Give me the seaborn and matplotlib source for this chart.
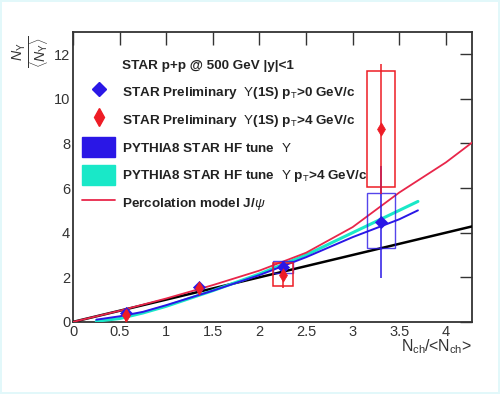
import numpy as np
import pandas as pd
import matplotlib
matplotlib.use("Agg")
import matplotlib.pyplot as plt
from matplotlib.lines import Line2D
from matplotlib.patches import Patch, Rectangle
import seaborn as sns

# ---- data ----
x_pts = [0.57, 1.35, 2.25, 3.30]
blue_y = [0.42, 1.58, 2.45, 4.48]
blue_err = [0.15, 0.15, 0.30, 2.50]
red_y = [0.30, 1.50, 2.10, 8.65]
red_err = [0.30, 0.20, 0.60, 2.90]
blue_sys_x = [2.25, 3.30]
blue_sys_lo = [2.20, 3.30]
blue_sys_hi = [2.75, 5.78]
red_sys_x = [2.25, 3.30]
red_sys_lo = [1.60, 6.05]
red_sys_hi = [2.65, 11.25]

lin_x = [0.0, 4.3]
lin_y = [0.0, 4.3]

perc_x = [0.0, 0.5, 1.0, 1.5, 2.0, 2.5, 3.0, 3.5, 4.0, 4.3]
perc_y = [0.0, 0.5, 1.05, 1.65, 2.3, 3.1, 4.25, 5.8, 7.15, 8.1]

py_x = [0.25, 0.5, 0.75, 1.0, 1.5, 2.0, 2.5, 3.0, 3.5, 3.7]
py_all_y = [0.10, 0.25, 0.45, 0.75, 1.40, 2.10, 2.90, 3.80, 4.60, 5.00]
py_pt4_y = [0.03, 0.15, 0.40, 0.70, 1.40, 2.15, 3.00, 4.00, 5.00, 5.40]

x_ticks = [0, 0.5, 1, 1.5, 2, 2.5, 3, 3.5, 4]
x_ticklabels = ["0", "0.5", "1", "1.5", "2", "2.5", "3", "3.5", "4"]
y_ticks = [0, 2, 4, 6, 8, 10, 12]

legend_labels = [
    "STAR p+p @ 500 GeV |y|<1",
    r"STAR Preliminary  $\Upsilon$(1S) p$_{\rm T}$>0 GeV/c",
    r"STAR Preliminary  $\Upsilon$(1S) p$_{\rm T}$>4 GeV/c",
    r"PYTHIA8 STAR HF tune  $\Upsilon$",
    r"PYTHIA8 STAR HF tune  $\Upsilon$ p$_{\rm T}$>4 GeV/c",
    r"Percolation model J/$\psi$",
]

BLUE = "#2a17e6"
RED = "#ee1c25"
CYAN = "#19e8c8"
PERC = "#e8264a"

sns.set_style("white")
plt.rcParams["font.family"] = ["Liberation Sans", "DejaVu Sans"]
plt.rcParams["mathtext.fontset"] = "custom"
plt.rcParams["mathtext.rm"] = "Liberation Sans"
plt.rcParams["mathtext.it"] = "Liberation Sans:italic"
plt.rcParams["mathtext.bf"] = "Liberation Sans:bold"

fig = plt.figure(figsize=(5.0, 3.94), dpi=100)
fig.patch.set_facecolor("white")
ax = fig.add_axes([0.146, 0.183, 0.798, 0.736])

df_lin = pd.DataFrame({"x": lin_x, "y": lin_y})
df_perc = pd.DataFrame({"x": perc_x, "y": perc_y})
df_py = pd.DataFrame({"x": py_x, "all": py_all_y, "pt4": py_pt4_y})

sns.lineplot(data=df_lin, x="x", y="y", ax=ax, color="black", lw=1.8, zorder=3)
sns.lineplot(data=df_py, x="x", y="pt4", ax=ax, color=CYAN, lw=2.2, zorder=3)
sns.lineplot(data=df_py, x="x", y="all", ax=ax, color=BLUE, lw=1.4, zorder=3)
sns.lineplot(data=df_perc, x="x", y="y", ax=ax, color=PERC, lw=1.3, zorder=3)

# systematic boxes (half widths are drawing style)
box_hw = [0.105, 0.15]
for xc, lo, hi, hw in zip(blue_sys_x, blue_sys_lo, blue_sys_hi, box_hw):
    ax.add_patch(Rectangle((xc - hw, lo), 2 * hw, hi - lo, fill=False,
                           ec=BLUE, lw=1.0, alpha=0.8, zorder=4))
for xc, lo, hi, hw in zip(red_sys_x, red_sys_lo, red_sys_hi, box_hw):
    ax.add_patch(Rectangle((xc - hw, lo), 2 * hw, hi - lo, fill=False,
                           ec=RED, lw=1.1, zorder=4))

ax.errorbar(x_pts, blue_y, yerr=blue_err, fmt="none", ecolor=BLUE, elinewidth=1.1, zorder=5)
ax.errorbar(x_pts, red_y, yerr=red_err, fmt="none", ecolor=RED, elinewidth=1.1, zorder=6)

df_pts = pd.DataFrame({"x": x_pts, "blue": blue_y, "red": red_y})
sns.scatterplot(data=df_pts, x="x", y="blue", ax=ax, marker="D", s=38,
                color=BLUE, edgecolor=BLUE, zorder=7)
sns.scatterplot(data=df_pts, x="x", y="red", ax=ax, marker="d", s=45,
                color=RED, edgecolor=RED, zorder=8)

ax.set_xlim(0, 4.28)
ax.set_ylim(0, 13.0)
ax.set_xlabel("")
ax.set_ylabel("")
ax.set_xticks(x_ticks)
ax.set_xticklabels(x_ticklabels)
ax.set_yticks(y_ticks)
ax.tick_params(axis="both", which="major", direction="in", length=9, width=1.0,
               color="#333333", labelsize=10.5, labelcolor="#333333",
               top=True, right=True, labeltop=False, labelright=False, pad=2)
for sp in ax.spines.values():
    sp.set_color("#333333")
    sp.set_linewidth(1.3)

# legend
handles = [
    Line2D([], [], linestyle="none", marker=None),
    Line2D([], [], color=BLUE, marker="D", markersize=7, linestyle="none"),
    Line2D([], [], color=RED, marker="d", markersize=9, linestyle="none"),
    Patch(facecolor=BLUE, edgecolor=BLUE),
    Patch(facecolor=CYAN, edgecolor=CYAN),
    Line2D([], [], color=PERC, lw=1.3),
]
leg = ax.legend(handles, legend_labels, loc="upper left", bbox_to_anchor=(0.01, 0.94),
                frameon=False, prop={"weight": "bold", "size": 9.7},
                labelspacing=0.58, handlelength=2.43, handleheight=1.88,
                handletextpad=0.5, borderaxespad=0.0)
for t in leg.get_texts():
    t.set_color("#222222")

fig.text(0.064, 0.868, r"$\frac{N_{\Upsilon}}{\langle N_{\Upsilon}\rangle}$", rotation=90,
         fontsize=14.5, color="#333333", ha="center", va="center")
fig.text(0.945, 0.12, r"N$_{\rm ch}$/<N$_{\rm ch}$>", fontsize=11.5,
         color="#333333", ha="right", va="center")

fig.patch.set_edgecolor("#e2f8fa")
fig.patch.set_linewidth(1.5)
fig.savefig("out.png", dpi=100, facecolor=fig.get_facecolor(), edgecolor=fig.get_edgecolor())
